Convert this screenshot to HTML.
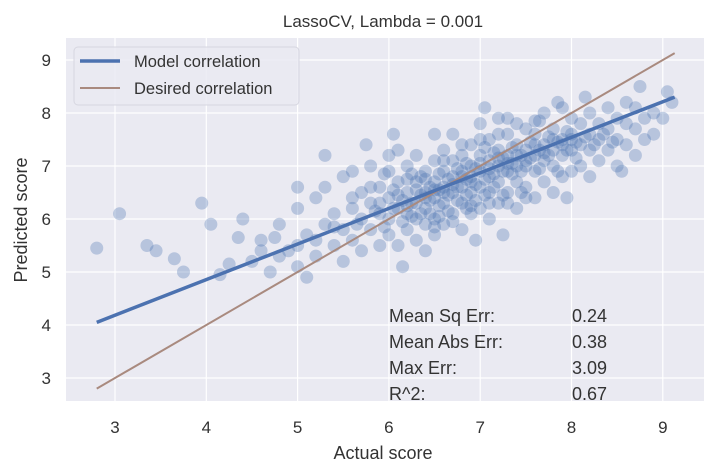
<!DOCTYPE html>
<html><head><meta charset="utf-8"><style>
body{margin:0;background:#fff;}
svg{display:block;font-family:"Liberation Sans",sans-serif;}
</style></head><body>
<svg id="chart" width="718" height="474"></svg>
<script>
const xTicks=[3,4,5,6,7,8,9];
const yTicks=[3,4,5,6,7,8,9];
const modelLine=[[2.8,4.05],[9.13,8.3]];
const desiredLine=[[2.8,2.8],[9.13,9.13]];
const statLabels=["Mean Sq Err:","Mean Abs Err:","Max Err:","R^2:"];
const statValues=["0.24","0.38","3.09","0.67"];
const scatterPoints=[
[2.8,5.45],[3.05,6.1],[3.35,5.5],[3.45,5.4],[3.65,5.25],[3.75,5.0],[3.95,6.3],[4.05,5.9],[4.25,5.15],[4.35,5.65],[4.15,4.95],[5.3,7.2],[5.0,6.6],
[4.5,5.2],[4.6,5.6],[4.7,5.0],[4.8,5.9],[4.9,5.4],[5.0,6.2],[5.0,5.1],[5.1,5.7],[5.2,6.4],[5.2,5.3],[5.3,5.9],[5.3,6.6],[5.4,5.5],[5.4,6.1],[5.5,5.2],[5.5,6.8],[5.5,5.8],[4.4,6.0],[4.6,5.4],[5.1,4.9],
[5.6,5.6],[5.6,6.2],[5.6,6.9],[5.7,5.4],[5.7,6.0],[5.7,6.5],[5.8,5.8],[5.8,6.3],[5.8,7.0],[5.9,5.5],[5.9,6.1],[5.9,6.6],[6.0,5.7],[6.0,6.0],[6.0,6.4],[6.0,6.9],[6.1,5.5],[6.1,6.2],[6.1,6.7],[6.1,7.3],[6.2,5.8],[6.2,6.1],[6.2,6.5],[6.2,7.0],[6.3,5.6],[6.3,6.0],[6.3,6.3],[6.3,6.7],[6.3,7.2],[6.4,5.9],[6.4,6.2],[6.4,6.5],[6.4,6.9],[6.4,5.4],[6.5,6.0],[6.5,6.4],[6.5,6.7],[6.5,7.1],[6.5,7.6],[6.5,5.7],[5.75,7.4],[6.05,7.6],[6.15,5.1],[5.95,6.85],[6.25,6.85],[6.35,6.1],[6.45,6.35],[6.15,6.35],[6.55,6.25],[6.55,6.55],
[6.6,5.9],[6.6,6.3],[6.6,6.6],[6.6,6.9],[6.6,7.3],[6.7,6.1],[6.7,6.5],[6.7,6.8],[6.7,7.1],[6.7,7.6],[6.8,5.8],[6.8,6.3],[6.8,6.6],[6.8,6.9],[6.8,7.2],[6.9,6.1],[6.9,6.5],[6.9,6.8],[6.9,7.0],[6.9,7.4],[7.0,6.2],[7.0,6.6],[7.0,6.9],[7.0,7.2],[7.0,7.8],[7.1,6.0],[7.1,6.5],[7.1,6.8],[7.1,7.1],[7.1,7.5],[7.2,6.3],[7.2,6.7],[7.2,7.0],[7.2,7.3],[7.2,7.9],[7.3,6.5],[7.3,6.9],[7.3,7.2],[7.3,7.6],[7.4,6.2],[7.4,6.7],[7.4,7.0],[7.4,7.4],[7.5,6.6],[7.5,7.0],[7.5,7.3],[7.5,7.7],[6.75,6.35],[6.85,7.05],[6.95,6.65],[7.05,7.35],[7.15,6.85],[7.25,7.15],[7.35,6.85],[7.45,7.2],[6.65,6.75],[6.95,5.6],[7.05,8.1],[7.25,5.7],[6.85,6.45],
[7.6,6.4],[7.6,6.9],[7.6,7.2],[7.6,7.6],[7.7,6.7],[7.7,7.1],[7.7,7.4],[7.7,8.0],[7.8,6.5],[7.8,7.0],[7.8,7.3],[7.8,7.7],[7.9,6.8],[7.9,7.2],[7.9,7.5],[7.9,8.1],[8.0,6.9],[8.0,7.3],[8.0,7.6],[8.0,7.9],[8.1,7.0],[8.1,7.4],[8.1,7.8],[8.2,6.8],[8.2,7.3],[8.2,7.6],[8.2,8.0],[8.3,7.1],[8.3,7.5],[8.3,7.8],[8.4,7.3],[8.4,7.7],[8.4,8.1],[8.5,7.0],[8.5,7.5],[8.5,7.9],[7.65,7.85],[7.85,8.2],[8.15,8.3],[7.95,6.4],
[8.6,7.4],[8.6,7.8],[8.6,8.2],[8.7,7.2],[8.7,7.7],[8.7,8.1],[8.8,7.5],[8.8,7.9],[8.9,7.6],[8.9,8.0],[9.0,7.9],[9.05,8.4],[9.1,8.2],[8.75,8.5],[8.55,6.9],
[5.65,5.9],[5.85,6.15],[5.95,5.85],[6.05,6.2],[6.05,6.55],[6.15,5.95],[6.25,6.3],[6.25,6.05],[6.35,6.45],[6.35,6.8],[6.45,6.1],[6.45,6.6],[6.55,6.85],[6.55,6.05],[6.65,6.45],[6.65,6.15],[6.75,6.95],[6.75,6.6],[6.85,6.75],[6.85,6.2],[6.95,6.95],[6.95,6.35],[7.05,6.75],[7.05,6.45],[7.15,7.25],[7.15,6.6],[7.25,6.9],[7.25,6.45],[7.35,7.05],[7.35,7.35],[7.45,6.9],[7.45,6.5],[7.55,7.15],[7.55,7.45],[7.65,6.95],[7.65,7.3],[7.75,7.2],[7.75,7.55],[7.85,6.9],[7.85,7.45],[7.95,7.3],[7.95,7.65],[8.05,7.15],[8.05,7.45],[8.15,7.55],[8.25,7.4],[8.35,7.6],[8.45,7.45],
[5.9,6.3],[6.1,6.45],[6.3,6.55],[6.5,6.55],[6.7,6.65],[6.9,6.7],[7.1,6.95],[7.3,7.05],[7.5,7.1],[7.7,7.25],[7.9,7.4],[6.2,6.25],[6.4,6.4],[6.6,6.5],[6.8,6.8],[7.0,7.05],[7.2,7.15],[7.4,7.2],[7.6,7.4],[7.8,7.5],[8.0,7.5],[6.6,7.1],[6.8,7.4],[7.0,7.5],[7.2,7.6],[7.4,7.8],[6.4,6.75],[6.2,6.75],[6.9,6.25],[7.1,6.3],[7.3,6.3],[7.5,6.4],[6.7,5.95],[6.5,5.85],[7.6,7.85],[7.3,7.9],[6.0,7.2],[5.8,6.6],[5.6,6.4],[5.4,5.85],[5.2,5.6],[5.0,5.5],[4.8,5.3],[4.75,5.65]
];
const NS="http://www.w3.org/2000/svg";
const svg=document.getElementById('chart');
const L=66,R=704,T=38,B=401;
const sx=v=>115+(v-3)*91.3;
const sy=v=>378-(v-3)*53;
function mk(tag,attrs,parent){const e=document.createElementNS(NS,tag);for(const k in attrs)e.setAttribute(k,attrs[k]);(parent||svg).appendChild(e);return e;}
let bg=mk('rect',{x:L,y:T,width:R-L,height:B-T,fill:'#eaeaf2'});


xTicks.forEach(t=>{
  let g=mk('line',{x1:sx(t),x2:sx(t),y1:T,y2:B,stroke:'#fff','stroke-width':1.2});
  
  
  let tx=mk('text',{x:sx(t),y:433,'text-anchor':'middle','font-size':17,fill:'#333'});tx.textContent=t;
  
  
});
yTicks.forEach(t=>{
  let g=mk('line',{x1:L,x2:R,y1:sy(t),y2:sy(t),stroke:'#fff','stroke-width':1.2});
  
  
  let tx=mk('text',{x:51,y:sy(t)+6,'text-anchor':'end','font-size':17,fill:'#333'});tx.textContent=t;
  
  
});
scatterPoints.forEach(p=>{
  let c=mk('circle',{cx:sx(p[0]),cy:sy(p[1]),r:6.5,fill:'#4c72b0','fill-opacity':0.32});
  
  
});
let dl=mk('line',{x1:sx(desiredLine[0][0]),y1:sy(desiredLine[0][1]),x2:sx(desiredLine[1][0]),y2:sy(desiredLine[1][1]),stroke:'#a98a7f','stroke-width':2});


let ml=mk('line',{x1:sx(modelLine[0][0]),y1:sy(modelLine[0][1]),x2:sx(modelLine[1][0]),y2:sy(modelLine[1][1]),stroke:'#4c72b0','stroke-width':3.5});


statLabels.forEach((s,i)=>{
  let a=mk('text',{x:389,y:322+i*26,'font-size':18,fill:'#333'});a.textContent=s;
  
  
  let b=mk('text',{x:572,y:322+i*26,'font-size':18,fill:'#333'});b.textContent=statValues[i];
  
  
});
let lg=mk('g',{});


mk('rect',{x:74,y:47,width:225,height:58,rx:4,fill:'#eaeaf2','fill-opacity':0.85,stroke:'#d6d6e0'},lg);
mk('line',{x1:80,x2:120,y1:61,y2:61,stroke:'#4c72b0','stroke-width':3.5},lg);
mk('line',{x1:80,x2:120,y1:88,y2:88,stroke:'#a98a7f','stroke-width':2},lg);
let l1=mk('text',{x:134,y:67,'font-size':16.5,fill:'#333'},lg);l1.textContent='Model correlation';


let l2=mk('text',{x:134,y:94,'font-size':16.5,fill:'#333'},lg);l2.textContent='Desired correlation';


let ti=mk('text',{x:383,y:27,'text-anchor':'middle','font-size':17,fill:'#333'});ti.textContent='LassoCV, Lambda = 0.001';


let xl=mk('text',{x:383,y:459,'text-anchor':'middle','font-size':18,fill:'#333'});xl.textContent='Actual score';


let yl=mk('text',{x:0,y:0,'text-anchor':'middle','font-size':18,fill:'#333',transform:'translate(27,220) rotate(-90)'});yl.textContent='Predicted score';


</script>
</body></html>
